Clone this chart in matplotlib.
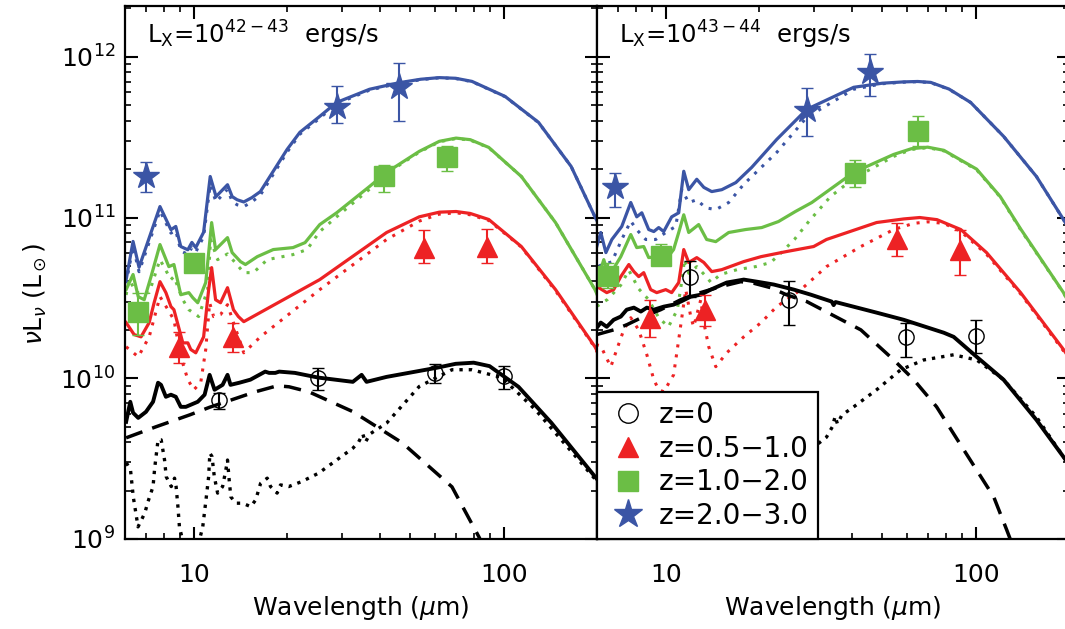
import numpy as np
import matplotlib
matplotlib.use("Agg")
import matplotlib.pyplot as plt
from matplotlib.lines import Line2D
from matplotlib.ticker import FixedLocator, FuncFormatter, LogLocator, NullFormatter

BLUE = "#3b55a5"
GREEN = "#6bbe45"
RED = "#ed2224"

# ---------------- left panel: Lx = 10^42-43 ----------------
# model curves, (wavelength [um], nuLnu [Lsun])
L_BLUE_SOLID = [(6.05, 4.1e10), (6.37, 7.1e10), (6.66, 4.9e10), (7.78, 1.17e11), (8.44, 8.4e10),
                (8.75, 8.8e10), (9.08, 6.6e10), (9.57, 6.3e10), (9.86, 7.0e10), (10.15, 6.5e10),
                (10.76, 8.1e10), (11.3, 1.8e11), (11.8, 1.35e11), (12.85, 1.6e11), (13.3, 1.35e11),
                (13.8, 1.29e11), (14.5, 1.25e11), (15.4, 1.33e11), (16.4, 1.45e11), (20.0, 2.65e11),
                (22.0, 3.39e11), (25.5, 4.26e11), (28.9, 5.2e11), (36.9, 6.28e11), (46.0, 6.9e11),
                (54.0, 7.25e11), (62.0, 7.42e11), (70.0, 7.35e11), (79.0, 7.03e11), (101.0, 5.67e11),
                (129.5, 3.91e11), (165.0, 2.08e11), (197.0, 1.01e11), (205.0, 8.7e10)]
L_BLUE_DOT = [(6.05, 3.9e10), (6.37, 6.6e10), (6.66, 4.6e10), (7.78, 1.1e11), (8.44, 8.0e10),
              (8.75, 8.3e10), (9.08, 6.2e10), (9.57, 5.9e10), (9.86, 6.5e10), (10.15, 6.1e10),
              (10.76, 7.6e10), (11.3, 1.6e11), (11.8, 1.25e11), (12.85, 1.5e11), (13.3, 1.26e11),
              (13.8, 1.2e11), (14.5, 1.17e11), (15.4, 1.25e11), (16.4, 1.38e11), (20.0, 2.55e11),
              (22.0, 3.3e11), (25.5, 4.15e11), (28.9, 5.1e11), (36.9, 6.2e11), (46.0, 6.85e11),
              (54.0, 7.2e11), (62.0, 7.4e11), (70.0, 7.32e11), (79.0, 7.0e11), (101.0, 5.65e11),
              (129.5, 3.9e11), (165.0, 2.08e11), (197.0, 1.01e11), (205.0, 8.7e10)]
L_GREEN_SOLID = [(6.05, 3.56e10), (6.37, 4.42e10), (6.62, 3.22e10), (6.92, 3.08e10), (7.28, 4.29e10),
                 (7.78, 6.79e10), (8.31, 4.95e10), (8.63, 5.1e10), (9.08, 3.31e10), (9.64, 3.41e10),
                 (9.93, 3.17e10), (10.3, 2.95e10), (10.93, 3.94e10), (11.42, 9.3e10), (11.76, 6.32e10),
                 (12.85, 7.5e10), (13.3, 6.05e10), (14.15, 5.32e10), (14.68, 5.1e10), (16.03, 5.71e10),
                 (18.05, 6.32e10), (20.9, 6.5e10), (22.86, 6.98e10), (25.5, 9.04e10), (28.9, 1.07e11),
                 (36.9, 1.56e11), (41.9, 1.91e11), (53.4, 2.58e11), (62.0, 2.98e11), (70.2, 3.12e11),
                 (78.0, 3.05e11), (89.5, 2.73e11), (114.0, 1.8e11), (147.0, 9.3e10), (197.0, 3.56e10),
                 (205.0, 3.0e10)]
L_GREEN_DOT = [(6.05, 3.3e10), (6.19, 4.11e10), (6.53, 3.41e10), (7.18, 3.41e10), (7.78, 5.47e10),
               (8.44, 4.11e10), (8.63, 4.29e10), (9.22, 3.08e10), (9.64, 2.67e10), (10.37, 2.42e10),
               (11.09, 3.56e10), (11.33, 7.3e10), (11.94, 5.47e10), (12.85, 5.94e10), (13.6, 5.25e10),
               (14.5, 4.54e10), (15.57, 4.54e10), (17.27, 5.47e10), (20.9, 5.88e10), (23.2, 6.32e10),
               (25.5, 8.18e10), (28.9, 1.01e11), (36.9, 1.5e11), (41.9, 1.88e11), (53.4, 2.55e11),
               (62.0, 2.96e11), (70.2, 3.1e11), (78.0, 3.03e11), (89.5, 2.72e11), (114.0, 1.8e11),
               (147.0, 9.3e10), (197.0, 3.56e10), (205.0, 3.0e10)]
L_RED_SOLID = [(6.05, 2.22e10), (6.42, 1.87e10), (6.76, 1.81e10), (7.18, 2.22e10), (7.45, 2.95e10),
               (7.78, 3.99e10), (8.13, 3.41e10), (8.44, 2.79e10), (8.63, 2.67e10), (9.22, 1.66e10),
               (9.57, 1.66e10), (9.78, 1.51e10), (10.15, 1.44e10), (10.76, 1.81e10), (11.17, 3.56e10),
               (11.42, 4.88e10), (11.76, 3.08e10), (12.2, 2.95e10), (12.85, 3.66e10), (13.43, 2.67e10),
               (13.93, 2.42e10), (14.5, 2.25e10), (25.5, 4.11e10), (41.9, 8.07e10), (53.4, 1.01e11),
               (62.0, 1.08e11), (70.2, 1.09e11), (78.0, 1.06e11), (89.5, 9.72e10), (114.0, 6.6e10),
               (147.0, 3.56e10), (197.0, 1.57e10), (205.0, 1.35e10)]
L_RED_DOT = [(6.05, 1.57e10), (6.62, 1.36e10), (7.18, 1.81e10), (7.78, 3.22e10), (8.26, 2.67e10),
             (8.63, 2.31e10), (9.08, 1.36e10), (9.57, 9.8e9), (10.0, 8.48e9), (10.53, 9.38e9),
             (10.93, 1.51e10), (11.25, 2.95e10), (11.59, 2.42e10), (12.2, 2.49e10), (12.85, 2.87e10),
             (13.43, 2.22e10), (14.15, 1.66e10), (14.5, 1.44e10), (16.41, 1.81e10), (25.5, 3.56e10),
             (41.9, 7.3e10), (53.4, 9.5e10), (62.0, 1.05e11), (70.2, 1.07e11), (78.0, 1.04e11),
             (89.5, 9.6e10), (114.0, 6.55e10), (147.0, 3.5e10), (197.0, 1.55e10), (205.0, 1.33e10)]
L_BLACK_TOT = [(6.05, 5.36e9), (6.24, 7.14e9), (6.37, 6.1e9), (6.62, 5.67e9), (7.01, 6.18e9),
               (7.39, 7.14e9), (7.67, 9.38e9), (7.84, 9.1e9), (8.13, 7.67e9), (8.44, 7.9e9),
               (8.75, 7.67e9), (9.08, 6.64e9), (9.43, 6.64e9), (10.3, 7.14e9), (10.84, 7.9e9),
               (11.25, 1.05e10), (11.67, 8.48e9), (12.39, 9.1e9), (12.85, 1.05e10), (13.14, 9.1e9),
               (14.03, 9.38e9), (15.23, 9.8e9), (17.0, 1.1e10), (17.5, 1.08e10), (18.33, 1.08e10),
               (18.86, 1.1e10), (21.2, 1.08e10), (25.2, 1.01e10), (32.6, 9.5e9), (34.8, 1.05e10),
               (36.1, 9.5e9), (41.9, 1.02e10), (60.5, 1.16e10), (70.0, 1.23e10), (80.0, 1.25e10),
               (90.0, 1.19e10), (111.6, 8.85e9), (142.5, 5.28e9), (201.0, 2.33e9)]
L_BLACK_AGN = [(6.05, 4.26e9), (7.55, 4.99e9), (9.71, 5.92e9), (11.25, 6.6e9), (15.81, 8.24e9),
               (18.6, 8.98e9), (20.3, 8.85e9), (23.5, 8.24e9), (32.6, 6.2e9), (47.1, 3.96e9),
               (68.1, 2.11e9), (83.2, 1.03e9), (90.0, 7.5e8)]
L_BLACK_SF = [(6.06, 2.98e9), (6.25, 2.69e9), (6.38, 1.83e9), (6.53, 1.38e9), (6.61, 1.19e9),
              (6.95, 1.45e9), (7.12, 1.71e9), (7.39, 2.12e9), (7.48, 2.76e9), (7.67, 4.14e9),
              (7.85, 4.14e9), (8.05, 3.1e9), (8.15, 2.44e9), (8.46, 2.12e9), (8.67, 2.39e9),
              (8.77, 2.12e9), (8.89, 1.59e9), (8.99, 1.19e9), (9.78, 6.0e8), (10.69, 1.19e9),
              (10.95, 1.75e9), (11.17, 2.44e9), (11.27, 3.42e9), (11.45, 3.26e9), (11.65, 2.44e9),
              (11.94, 1.93e9), (12.39, 2.12e9), (12.69, 2.69e9), (12.85, 3.1e9), (13.01, 2.33e9),
              (13.17, 1.83e9), (13.67, 1.67e9), (14.36, 1.67e9), (15.27, 1.59e9), (15.84, 1.75e9),
              (16.43, 2.22e9), (17.26, 2.39e9), (17.69, 2.12e9), (18.58, 1.93e9), (19.05, 2.17e9),
              (20.26, 2.12e9), (22.35, 2.28e9), (25.3, 2.57e9), (32.6, 3.67e9), (34.0, 4.0e9),
              (35.1, 4.5e9), (35.8, 4.0e9), (37.0, 4.5e9), (41.9, 5.26e9), (53.4, 8.89e9),
              (68.1, 1.13e10), (78.9, 1.13e10), (98.6, 1.01e10), (126.6, 6.37e9), (201.0, 2.26e9)]

# photometry, (wavelength, value, lower, upper)
L_PTS_Z0 = [(12.1, 7.35e9, 6.45e9, 8.1e9), (25.2, 1.0e10, 8.5e9, 1.16e10),
            (60.1, 1.08e10, 9.4e9, 1.23e10), (100.0, 1.04e10, 8.6e9, 1.2e10)]
L_PTS_Z05 = [(8.95, 1.57e10, 1.25e10, 1.95e10), (13.4, 1.81e10, 1.46e10, 2.2e10),
             (55.5, 6.5e10, 5.25e10, 8.4e10), (88.2, 6.6e10, 5.25e10, 8.5e10)]
L_PTS_Z1 = [(6.6, 2.6e10, 1.87e10, 3.4e10), (10.0, 5.25e10, 4.9e10, 5.6e10),
            (41.2, 1.8e11, 1.45e11, 2.11e11), (65.6, 2.37e11, 1.94e11, 2.77e11)]
L_PTS_Z2 = [(7.0, 1.8e11, 1.45e11, 2.23e11), (28.9, 4.9e11, 3.85e11, 6.55e11),
            (46.0, 6.45e11, 4.0e11, 9.1e11)]

# ---------------- right panel: Lx = 10^43-44 ----------------
R_BLUE_SOLID = [(5.99, 6.6e10), (6.17, 8.07e10), (6.41, 6.05e10), (6.70, 7.3e10), (7.21, 8.79e10),
                (7.71, 1.24e11), (8.06, 1.01e11), (8.37, 1.07e11), (8.81, 8.42e10), (9.15, 8.18e10),
                (9.49, 8.66e10), (9.85, 8.18e10), (10.45, 1.01e11), (11.01, 1.07e11), (11.43, 1.94e11),
                (11.86, 1.49e11), (12.59, 1.73e11), (13.27, 1.54e11), (14.07, 1.45e11), (15.16, 1.49e11),
                (16.83, 1.65e11), (18.93, 2.05e11), (22.8, 3.06e11), (28.5, 4.71e11), (40.4, 6.46e11),
                (50.0, 6.85e11), (58.6, 6.98e11), (65.0, 7.02e11), (71.6, 6.93e11), (82.0, 6.3e11),
                (96.3, 5.2e11), (123.0, 3.2e11), (157.0, 1.8e11), (192.0, 9.72e10), (205.0, 7.8e10)]
R_BLUE_DOT = [(6.08, 5.0e10), (6.7, 5.3e10), (7.21, 7.3e10), (7.71, 9.5e10), (8.06, 8.4e10),
              (8.62, 7.3e10), (9.28, 7.3e10), (10.0, 8.07e10), (10.77, 8.8e10), (11.26, 1.49e11),
              (11.86, 1.24e11), (12.59, 1.29e11), (13.45, 1.15e11), (14.5, 1.12e11), (15.96, 1.24e11),
              (17.85, 1.61e11), (22.8, 2.54e11), (28.5, 4.2e11), (40.4, 6.28e11), (50.0, 6.8e11),
              (58.6, 6.95e11), (65.0, 7.0e11), (71.6, 6.9e11), (82.0, 6.28e11), (96.3, 5.2e11),
              (123.0, 3.2e11), (157.0, 1.8e11), (192.0, 9.7e10), (205.0, 7.8e10)]
R_GREEN_SOLID = [(5.99, 3.94e10), (6.31, 5.47e10), (6.55, 4.29e10), (7.16, 5.71e10), (7.71, 7.84e10),
                 (8.06, 6.5e10), (8.49, 6.6e10), (8.81, 5.63e10), (9.28, 5.71e10), (9.85, 5.25e10),
                 (10.6, 6.32e10), (11.01, 8.07e10), (11.43, 1.04e11), (11.86, 8.07e10), (12.77, 9.04e10),
                 (13.55, 7.3e10), (14.5, 7.08e10), (15.96, 8.07e10), (18.1, 8.42e10), (20.4, 8.66e10),
                 (23.1, 9.44e10), (26.2, 1.09e11), (29.6, 1.24e11), (40.4, 1.91e11), (54.4, 2.47e11),
                 (62.0, 2.68e11), (70.0, 2.74e11), (78.9, 2.62e11), (100.7, 2.0e11), (120.0, 1.35e11),
                 (139.6, 8.5e10), (192.0, 3.41e10), (205.0, 2.7e10)]
R_GREEN_DOT = [(5.99, 2.8e10), (6.5, 3.1e10), (7.16, 3.8e10), (7.6, 4.7e10), (8.18, 3.6e10),
               (8.81, 3.08e10), (9.49, 2.38e10), (10.2, 2.09e10), (10.9, 2.67e10), (11.26, 4.0e10),
               (11.5, 5.5e10), (11.86, 4.5e10), (12.6, 4.95e10), (13.5, 4.29e10), (14.0, 3.94e10),
               (15.0, 4.42e10), (17.0, 4.74e10), (19.5, 4.95e10), (21.8, 5.25e10), (23.5, 6.0e10),
               (26.0, 7.3e10), (29.0, 9.5e10), (34.0, 1.35e11), (40.4, 1.75e11), (54.4, 2.4e11),
               (62.0, 2.65e11), (70.0, 2.72e11), (78.9, 2.6e11), (100.7, 1.98e11), (120.0, 1.34e11),
               (139.6, 8.4e10), (192.0, 3.4e10), (205.0, 2.7e10)]
R_RED_SOLID = [(5.95, 3.7e10), (6.08, 3.66e10), (6.45, 3.41e10), (6.79, 3.56e10), (7.16, 4.29e10),
               (7.6, 5.1e10), (7.89, 4.61e10), (8.18, 4.29e10), (8.49, 4.54e10), (8.94, 3.56e10),
               (9.35, 3.41e10), (10.0, 3.56e10), (10.45, 3.41e10), (11.01, 3.94e10), (11.43, 6.32e10),
               (11.86, 5.25e10), (12.59, 5.63e10), (13.27, 5.25e10), (14.07, 4.61e10), (15.16, 4.74e10),
               (17.85, 5.32e10), (20.3, 5.71e10), (24.5, 6.14e10), (30.0, 6.6e10), (33.0, 7.3e10),
               (47.9, 9.31e10), (58.6, 9.8e10), (66.0, 1.0e11), (75.0, 9.7e10), (89.5, 8.42e10),
               (108.4, 6.05e10), (139.6, 3.41e10), (192.0, 1.51e10), (205.0, 1.25e10)]
R_RED_DOT = [(5.95, 1.62e10), (6.17, 1.59e10), (6.41, 1.36e10), (6.65, 1.18e10), (6.95, 1.51e10),
             (7.32, 2.0e10), (7.71, 2.38e10), (8.18, 2.0e10), (8.69, 1.4e10), (9.15, 9.8e9),
             (9.49, 8.48e9), (9.85, 8.24e9), (10.6, 1.05e10), (11.01, 1.74e10), (11.6, 3.56e10),
             (12.04, 2.42e10), (12.3, 2.09e10), (12.97, 3.08e10), (13.27, 2.22e10), (13.76, 1.57e10),
             (14.5, 1.18e10), (15.73, 1.44e10), (17.85, 1.81e10), (20.3, 2.22e10), (22.8, 2.79e10),
             (27.3, 3.56e10), (33.0, 4.95e10), (42.6, 6.6e10), (54.4, 8.42e10), (63.1, 9.2e10),
             (70.0, 9.4e10), (78.9, 9.2e10), (89.5, 8.2e10), (108.4, 5.9e10), (139.6, 3.35e10),
             (192.0, 1.48e10), (205.0, 1.23e10)]
R_BLACK_TOT = [(5.99, 2.06e10), (6.17, 2.22e10), (6.45, 2.09e10), (6.79, 2.31e10), (7.16, 2.42e10),
               (7.48, 2.67e10), (7.89, 2.75e10), (8.31, 2.6e10), (8.69, 2.75e10), (9.15, 2.67e10),
               (9.85, 2.79e10), (10.6, 2.87e10), (11.18, 3.0e10), (12.04, 3.22e10), (12.97, 3.31e10),
               (13.97, 3.56e10), (15.73, 3.94e10), (17.85, 4.11e10), (19.66, 3.99e10), (22.3, 3.83e10),
               (25.9, 3.56e10), (29.4, 3.31e10), (34.3, 3.0e10), (34.8, 2.85e10), (35.3, 2.98e10),
               (47.9, 2.56e10), (58.6, 2.31e10), (78.9, 1.92e10), (84.9, 1.81e10), (100.7, 1.36e10),
               (123.0, 9.8e9), (157.0, 5.51e9), (192.0, 3.24e9), (200.0, 2.9e9)]
R_BLACK_AGN = [(5.99, 1.87e10), (6.79, 2.0e10), (7.48, 2.15e10), (8.49, 2.42e10), (9.63, 2.67e10),
               (11.18, 3.08e10), (12.3, 3.31e10), (15.04, 3.72e10), (17.46, 3.99e10), (19.23, 3.9e10),
               (21.8, 3.66e10), (24.5, 3.31e10), (28.5, 3.0e10), (42.6, 2.0e10), (54.4, 1.3e10),
               (63.1, 9.8e9), (74.8, 6.64e9), (91.5, 3.59e9), (114.3, 1.83e9), (125.9, 1.14e9),
               (135.0, 8.0e8)]
R_BLACK_SF = [(6.0, 2.4e9), (7.7, 3.6e9), (10.0, 1.0e9), (11.3, 3.2e9), (13.0, 2.7e9), (15.0, 1.8e9),
              (20.0, 2.3e9), (26.0, 3.0e9), (33.0, 4.3e9), (34.5, 5.0e9), (35.2, 5.8e9), (35.8, 5.2e9),
              (37.0, 5.9e9), (40.4, 6.64e9), (47.9, 8.48e9), (57.3, 1.13e10), (68.0, 1.3e10),
              (84.9, 1.4e10), (100.7, 1.3e10), (123.0, 9.8e9), (157.0, 5.75e9), (182.5, 3.74e9),
              (200.0, 2.9e9)]

R_PTS_Z0 = [(11.95, 4.29e10, 3.22e10, 5.4e10), (24.9, 3.08e10, 2.15e10, 4.0e10),
            (59.8, 1.81e10, 1.36e10, 2.22e10), (100.0, 1.84e10, 1.44e10, 2.31e10)]
R_PTS_Z05 = [(8.88, 2.38e10, 1.81e10, 3.08e10), (13.4, 2.67e10, 2.12e10, 3.31e10),
             (55.6, 7.3e10, 5.8e10, 9.2e10), (88.7, 6.3e10, 4.4e10, 8.4e10)]
R_PTS_Z1 = [(6.5, 4.35e10, 3.66e10, 5.25e10), (9.64, 5.8e10, 5.3e10, 6.8e10),
            (40.7, 1.9e11, 1.54e11, 2.27e11), (65.0, 3.43e11, 2.77e11, 4.26e11)]
R_PTS_Z2 = [(6.85, 1.54e11, 1.17e11, 1.88e11), (28.5, 4.64e11, 3.2e11, 6.36e11),
            (45.5, 8.0e11, 5.7e11, 1.04e12)]

LEGEND_LABELS = ["z=0", "z=0.5\u22121.0", "z=1.0\u22122.0", "z=2.0\u22123.0"]

DOT_COLOR = (0, (1, 2.3))
DOT_BLACK = (0, (1, 1.8))
DASH = (0, (5, 3))


def plot_curve(ax, pts, color, ls, lw):
    lam, val = np.array(pts).T
    ax.plot(lam, val, color=color, linestyle=ls, lw=lw, zorder=2)


def plot_points(ax, pts, marker, ms, color, open_face=False):
    lam, val, lo, hi = np.array(pts).T
    ax.errorbar(lam, val, yerr=[val - lo, hi - val], fmt=marker, ms=ms,
                color=color, ecolor=color, mfc="none" if open_face else color,
                mec=color, mew=1.0, elinewidth=1.5, capsize=4, capthick=1.5,
                linestyle="none", zorder=5)


def style_axis(ax):
    ax.set_xscale("log")
    ax.set_yscale("log")
    ax.set_xlim(6, 200)
    ax.set_ylim(1e9, 2.07e12)
    ax.xaxis.set_major_locator(FixedLocator([10, 100]))
    ax.xaxis.set_major_formatter(FuncFormatter(lambda v, p: f"{v:g}"))
    ax.xaxis.set_minor_locator(LogLocator(base=10, subs=np.arange(2, 10)))
    ax.xaxis.set_minor_formatter(NullFormatter())
    ax.yaxis.set_minor_locator(LogLocator(base=10, subs=np.arange(2, 10)))
    ax.yaxis.set_minor_formatter(NullFormatter())
    ax.tick_params(which="both", direction="in", top=True, right=True)
    ax.tick_params(which="major", length=9, width=1.5, labelsize=18)
    ax.tick_params(which="minor", length=4.5, width=1.2)
    ax.tick_params(axis="x", which="major", pad=17)
    ax.tick_params(axis="y", which="major", pad=7)
    for s in ax.spines.values():
        s.set_linewidth(1.6)
    ax.set_xlabel(r"Wavelength ($\mu$m)", fontsize=18, labelpad=5)


def draw_panel(ax, curves, points, label):
    for pts, color, ls, lw in curves:
        plot_curve(ax, pts, color, ls, lw)
    z0, z05, z1, z2 = points
    plot_points(ax, z0, "o", 11, "black", open_face=True)
    plot_points(ax, z05, "^", 14, RED)
    plot_points(ax, z1, "s", 14, GREEN)
    plot_points(ax, z2, "*", 20, BLUE)
    style_axis(ax)
    ax.text(0.047, 0.93, label, transform=ax.transAxes, fontsize=17.5, va="baseline")


def main():
    plt.rcParams["font.family"] = ["DejaVu Sans"]
    plt.rcParams["mathtext.fontset"] = "dejavusans"

    fig = plt.figure(figsize=(10.65, 6.29), dpi=100)
    ax1 = fig.add_axes([125 / 1065, 90 / 629, 472 / 1065, 533 / 629])
    ax2 = fig.add_axes([597 / 1065, 90 / 629, 472 / 1065, 533 / 629])

    left_curves = [
        (L_BLUE_DOT, BLUE, DOT_COLOR, 2.2), (L_BLUE_SOLID, BLUE, "-", 2.3),
        (L_GREEN_DOT, GREEN, DOT_COLOR, 2.2), (L_GREEN_SOLID, GREEN, "-", 2.3),
        (L_RED_DOT, RED, DOT_COLOR, 2.2), (L_RED_SOLID, RED, "-", 2.3),
        (L_BLACK_SF, "black", DOT_BLACK, 2.4), (L_BLACK_AGN, "black", DASH, 2.5),
        (L_BLACK_TOT, "black", "-", 2.8),
    ]
    right_curves = [
        (R_BLUE_DOT, BLUE, DOT_COLOR, 2.2), (R_BLUE_SOLID, BLUE, "-", 2.3),
        (R_GREEN_DOT, GREEN, DOT_COLOR, 2.2), (R_GREEN_SOLID, GREEN, "-", 2.3),
        (R_RED_DOT, RED, DOT_COLOR, 2.2), (R_RED_SOLID, RED, "-", 2.3),
        (R_BLACK_SF, "black", DOT_BLACK, 2.4), (R_BLACK_AGN, "black", DASH, 2.5),
        (R_BLACK_TOT, "black", "-", 2.8),
    ]

    draw_panel(ax1, left_curves, [L_PTS_Z0, L_PTS_Z05, L_PTS_Z1, L_PTS_Z2],
               r"L$_{\rm X}$=10$^{42-43}$  ergs/s")
    draw_panel(ax2, right_curves, [R_PTS_Z0, R_PTS_Z05, R_PTS_Z1, R_PTS_Z2],
               r"L$_{\rm X}$=10$^{43-44}$  ergs/s")

    ax1.set_ylabel(r"$\nu$L$_\nu$ (L$_\odot$)", fontsize=18)
    ax1.yaxis.set_label_coords(-0.16, 0.46)
    ax2.tick_params(labelleft=False)

    handles = [
        Line2D([], [], marker="o", ms=14, mfc="none", mec="black", mew=1.0, ls="none"),
        Line2D([], [], marker="^", ms=14, color=RED, ls="none"),
        Line2D([], [], marker="s", ms=14, color=GREEN, ls="none"),
        Line2D([], [], marker="*", ms=21, color=BLUE, ls="none"),
    ]
    leg = ax2.legend(handles, LEGEND_LABELS, loc="lower left", bbox_to_anchor=(0, 0),
                     borderaxespad=0, fancybox=False, framealpha=1, edgecolor="black",
                     fontsize=20, handlelength=1.6, handletextpad=0.3, borderpad=0.33,
                     labelspacing=0.2)
    leg.get_frame().set_linewidth(1.6)
    leg.set_zorder(10)

    fig.savefig("out.png", dpi=100)
    plt.close(fig)


if __name__ == "__main__":
    main()
